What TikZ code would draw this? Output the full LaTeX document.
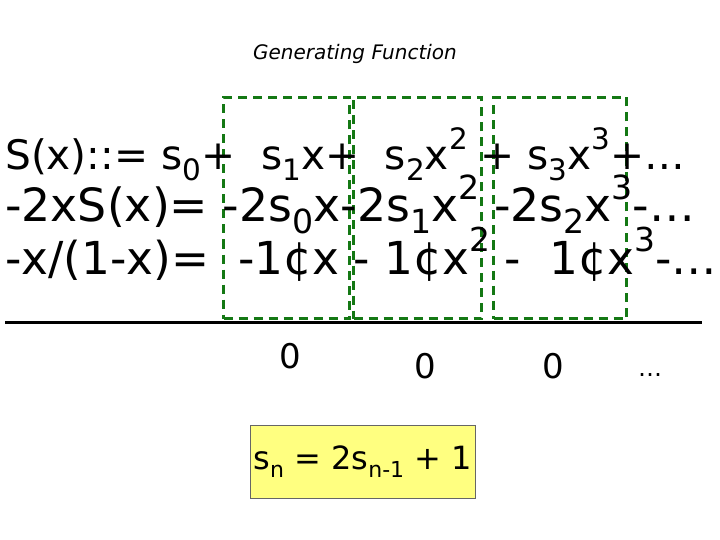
\documentclass[tikz,border=0pt]{standalone}
\usepackage{fontspec}
\setmainfont{DejaVu Sans}
\newcommand{\sbx}[1]{\raisebox{-0.25em}{\fontsize{29}{31}\selectfont #1}}
\newcommand{\spx}[1]{\raisebox{0.5em}{\fontsize{29}{31}\selectfont #1}}
\begin{document}
\begin{tikzpicture}[x=1pt,y=-1pt,
 dbox/.style={draw={rgb,255:red,20;green,120;blue,20},line width=3pt,dash pattern=on 9pt off 6pt},
 row/.style={anchor=base west,inner sep=0pt,font=\fontsize{40}{44}\selectfont}]
\useasboundingbox (0,0) rectangle (720,540);
\node (title) at (355,54) {\fontsize{20}{24}\selectfont\itshape Generating Function};
\node[dbox,minimum width=126pt,minimum height=221pt,anchor=north west] (b1) at (222,96) {};
\node[dbox,minimum width=128pt,minimum height=221pt,anchor=north west] (b2) at (352,96) {};
\node[dbox,minimum width=133pt,minimum height=221pt,anchor=north west] (b3) at (492,96) {};
\node[row] (r1) at (5,170) {\resizebox{680pt}{!}{S(x)::= s\sbx{0}+ \ s\sbx{1}x+ \ s\sbx{2}x\spx{2} + s\sbx{3}x\spx{3}+…}};
\node[row] (r2) at (5,222) {\resizebox{690pt}{!}{-2xS(x)= -2s\sbx{0}x-2s\sbx{1}x\spx{2} -2s\sbx{2}x\spx{3}-…}};
\node[row] (r3) at (5,274) {\resizebox{712pt}{!}{-x/(1-x)= \ -1¢x - 1¢x\spx{2} - \ 1¢x\spx{3}-…}};
\coordinate (la) at (5,322); \coordinate (lb) at (702,322);
\draw[line width=3pt] (la) -- (lb);
\node[font=\fontsize{34}{38}\selectfont] (z1) at (290,356) {0};
\node[font=\fontsize{34}{38}\selectfont] (z2) at (425,366) {0};
\node[font=\fontsize{34}{38}\selectfont] (z3) at (553,366) {0};
\node[font=\fontsize{24}{28}\selectfont] (d) at (650,375) {…};
\node[draw=black!60,fill={rgb,255:red,255;green,255;blue,128},minimum width=223pt,minimum height=73pt,anchor=north west,font=\fontsize{32}{36}\selectfont] (f) at (250,425) {s\raisebox{-0.25em}{\fontsize{22}{24}\selectfont n} = 2s\raisebox{-0.25em}{\fontsize{22}{24}\selectfont n-1} + 1};
\end{tikzpicture}
\end{document}
